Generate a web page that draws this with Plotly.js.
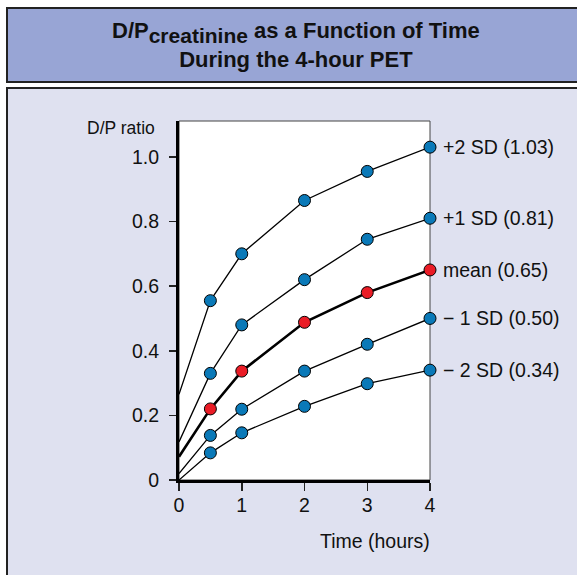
<!DOCTYPE html>
<html>
<head>
<meta charset="utf-8">
<script src="https://cdn.plot.ly/plotly-3.0.1.min.js"></script>
<style>html,body{margin:0;padding:0;background:#fff;}#chart{width:577px;height:575px;}</style>
</head>
<body>
<div id="chart"></div>
<script>
var times = [0, 0.5, 1, 2, 3, 4];
var plus2SD  = [0.265, 0.555, 0.70, 0.865, 0.955, 1.03];
var plus1SD  = [0.118, 0.33, 0.48, 0.62, 0.745, 0.81];
var meanVals = [0.072, 0.22, 0.337, 0.488, 0.58, 0.65];
var minus1SD = [0.02, 0.138, 0.219, 0.337, 0.42, 0.50];
var minus2SD = [0.0, 0.084, 0.146, 0.228, 0.298, 0.34];
var seriesLabels = ["+2 SD (1.03)", "+1 SD (0.81)", "mean (0.65)", "\u2212 1 SD (0.50)", "\u2212 2 SD (0.34)"];
var yTickVals = [0, 0.2, 0.4, 0.6, 0.8, 1.0];
var yTickText = ["0", "0.2", "0.4", "0.6", "0.8", "1.0"];
var xTickVals = [0, 1, 2, 3, 4];

var FONT = "Liberation Sans, Arial, Helvetica, sans-serif";
var BLUE = "#0a79b8", RED = "#ea1c26";
var sizes = [0, 12, 12, 12, 12, 12];
var lw = [0, 1, 1, 1, 1, 1];

function tr(y, color, width) {
  return {x: times, y: y, type: "scatter", mode: "lines+markers", cliponaxis: false,
    line: {color: "#000", width: width},
    marker: {size: sizes, color: color, opacity: 1, line: {color: "#000", width: lw}},
    hoverinfo: "x+y", showlegend: false};
}
var allSeries = [plus2SD, plus1SD, meanVals, minus1SD, minus2SD];
var data = [
  tr(minus2SD, BLUE, 1.3), tr(minus1SD, BLUE, 1.3), tr(plus1SD, BLUE, 1.3),
  tr(plus2SD, BLUE, 1.3), tr(meanVals, RED, 2.6)
];

var ann = [];
for (var i = 0; i < allSeries.length; i++) {
  ann.push({x: 4, y: allSeries[i][5], xref: "x", yref: "y", text: seriesLabels[i],
    showarrow: false, xanchor: "left", yanchor: "middle", xshift: 11,
    font: {family: FONT, size: 19.5, color: "#111"}});
}
ann.push({xref: "paper", yref: "paper", x: (296 - 179) / 251, y: (480 - 45) / 359,
  text: "<b>D/P<sub><span style=\"font-size:21px\">creatinine</span></sub> as a Function of Time</b><br><b>During the 4-hour PET</b>",
  showarrow: false, xanchor: "center", yanchor: "middle",
  font: {family: FONT, size: 22, color: "#111"}});
ann.push({xref: "paper", yref: "paper", x: (121 - 179) / 251, y: (480 - 128) / 359,
  text: "D/P ratio", showarrow: false, xanchor: "center", yanchor: "middle",
  font: {family: FONT, size: 17.5, color: "#111"}});
ann.push({xref: "paper", yref: "paper", x: (375 - 179) / 251, y: (480 - 541) / 359,
  text: "Time (hours)", showarrow: false, xanchor: "center", yanchor: "middle",
  font: {family: FONT, size: 19.5, color: "#111"}});

function px(v) { return (v - 179) / 251; }
function py(v) { return (480 - v) / 359; }

var shapes = [
  {type: "rect", xref: "paper", yref: "paper", x0: px(7), x1: px(600), y0: py(8), y1: py(82),
    fillcolor: "#98a5d5", line: {color: "#222", width: 2}, layer: "below"},
  {type: "rect", xref: "paper", yref: "paper", x0: px(7), x1: px(600), y0: py(88), y1: py(600),
    fillcolor: "#dfe1f0", line: {color: "#222", width: 2}, layer: "below"},
  {type: "rect", xref: "paper", yref: "paper", x0: 0, x1: 1, y0: 0, y1: 1,
    fillcolor: "#ffffff", line: {color: "#444", width: 1}, layer: "below"}
];

var layout = {
  width: 577, height: 575,
  margin: {l: 179, r: 147, t: 121, b: 95, pad: 0},
  paper_bgcolor: "#ffffff", plot_bgcolor: "rgba(0,0,0,0)",
  font: {family: FONT, size: 19, color: "#111"},
  xaxis: {range: [0, 4], tickvals: xTickVals, ticks: "outside", ticklen: 8, tickwidth: 1.5,
    tickcolor: "#222", showline: true, linecolor: "#000", linewidth: 3, showgrid: false,
    zeroline: false, fixedrange: true, ticklabelstandoff: -2,
    tickfont: {family: FONT, size: 19.5, color: "#111"}},
  yaxis: {range: [0, 1.111], tickvals: yTickVals, ticktext: yTickText, ticks: "outside",
    ticklen: 7, tickwidth: 1.5, tickcolor: "#222", showline: true, linecolor: "#000",
    linewidth: 3, showgrid: false, zeroline: false, fixedrange: true, ticklabelstandoff: 6,
    tickfont: {family: FONT, size: 19.5, color: "#111"}},
  annotations: ann,
  shapes: shapes
};
Plotly.newPlot("chart", data, layout, {displayModeBar: false, staticPlot: true});
</script>
</body>
</html>
